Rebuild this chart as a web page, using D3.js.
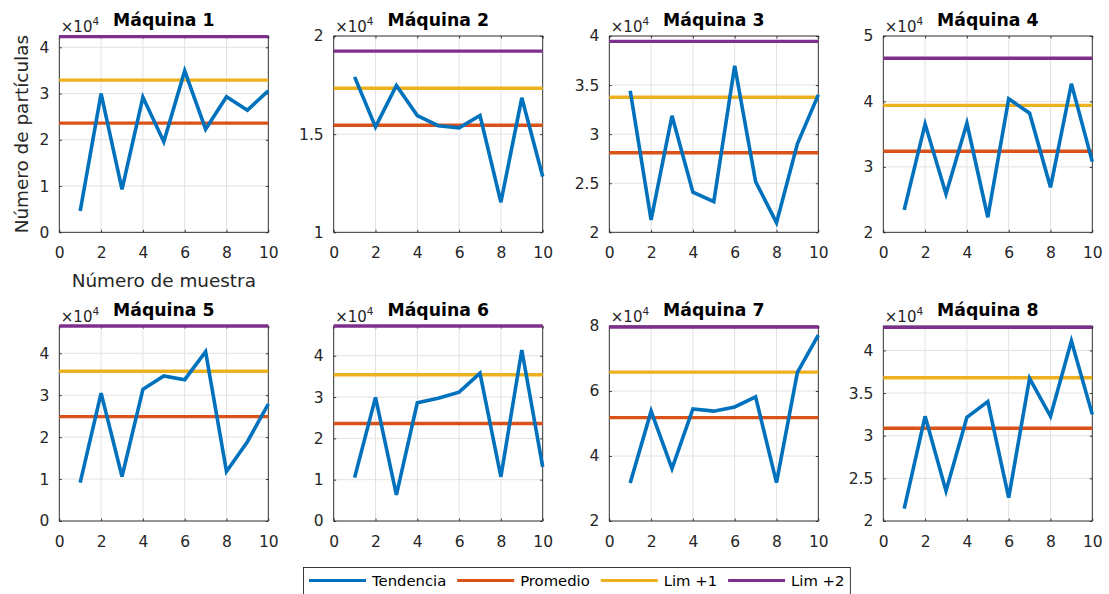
<!DOCTYPE html>
<html>
<head>
<meta charset="utf-8">
<script src="https://cdn.jsdelivr.net/npm/d3@7"></script>
<style>
  body { margin: 0; background: #fff; }
  svg { display: block; font-family: "DejaVu Sans", sans-serif; }
</style>
</head>
<body>
<div id="chart"></div>
<script>
// sample numbers (x axis)
const muestras = [1, 2, 3, 4, 5, 6, 7, 8, 9, 10];
const titulos = ["Máquina 1", "Máquina 2", "Máquina 3", "Máquina 4",
                 "Máquina 5", "Máquina 6", "Máquina 7", "Máquina 8"];

// Tendencia per machine (number of particles)
const maquina1 = [4600, 30000, 9300, 29200, 19600, 34900, 22300, 29300, 26400, 30600];
const maquina2 = [17920, 15370, 17480, 15950, 15430, 15320, 15950, 11530, 16850, 12840];
const maquina3 = [34420, 21260, 31870, 24080, 23120, 36970, 25160, 20980, 29010, 34000];
const maquina4 = [23420, 36550, 25870, 36660, 22300, 40400, 38200, 26870, 42700, 30800];
const maquina5 = [9140, 30500, 10600, 31400, 34600, 33700, 40400, 11800, 18900, 27900];
const maquina6 = [10500, 29900, 6300, 28600, 29700, 31200, 35800, 10700, 41400, 13100];
const maquina7 = [31700, 53800, 36100, 54500, 53800, 55100, 58200, 31800, 65700, 77200];
const maquina8 = [21450, 32270, 23520, 32160, 33990, 22740, 36730, 32270, 41100, 32500];
const tendencias = [maquina1, maquina2, maquina3, maquina4, maquina5, maquina6, maquina7, maquina8];

// horizontal reference lines
const promedio = [23600, 15450, 28100, 32380, 24900, 23600, 51800, 30870];
const limMas1  = [32900, 17340, 33760, 39400, 35700, 35400, 65800, 36800];
const limMas2  = [42300, 19230, 39450, 46600, 46500, 47200, 79700, 42700];

// y limits and ticks (x10^4)
const yMin = [0, 10000, 20000, 20000, 0, 0, 20000, 20000];
const yMax = [42440, 20000, 40000, 50000, 46500, 47200, 80000, 42860];
const yTicks = [
    [0, 1, 2, 3, 4],
    [1, 1.5, 2],
    [2, 2.5, 3, 3.5, 4],
    [2, 3, 4, 5],
    [0, 1, 2, 3, 4],
    [0, 1, 2, 3, 4],
    [2, 4, 6, 8],
    [2, 2.5, 3, 3.5, 4]
];
const xTicks = [0, 2, 4, 6, 8, 10];

const series = ["Tendencia", "Promedio", "Lim +1", "Lim +2"];
const colores = ["#0072BD", "#D95319", "#EDB120", "#7E2F8E"];

const W = 1109, H = 594;
const colLeft = [59.3, 333.7, 609.3, 883.3];
const rowTop = [36, 326];
const axW = 209, axH = [196.3, 195];
const ink = "#262626";

const svg = d3.select("#chart").append("svg")
    .attr("width", W)
    .attr("height", H);

function drawPanel(i) {
    const col = i % 4, row = Math.floor(i / 4);
    const h = axH[row];
    const g = svg.append("g")
        .attr("transform", "translate(" + colLeft[col] + "," + rowTop[row] + ")");

    const x = d3.scaleLinear().domain([0, 10]).range([0, axW]);
    const y = d3.scaleLinear().domain([yMin[i], yMax[i]]).range([h, 0]);
    const ticksY = yTicks[i].map(function(t) { return t * 1e4; });

    // grid
    g.append("g").selectAll("line.gx").data(xTicks).enter().append("line")
        .attr("x1", function(d) { return x(d); }).attr("x2", function(d) { return x(d); })
        .attr("y1", 0).attr("y2", h)
        .attr("stroke", "#e2e2e2").attr("stroke-width", 1);
    g.append("g").selectAll("line.gy").data(ticksY).enter().append("line")
        .attr("x1", 0).attr("x2", axW)
        .attr("y1", function(d) { return y(d); }).attr("y2", function(d) { return y(d); })
        .attr("stroke", "#e2e2e2").attr("stroke-width", 1);

    // axes (inward ticks on all sides)
    const tl = 2.5;
    g.append("g").attr("transform", "translate(0," + h + ")")
        .call(d3.axisBottom(x).tickValues(xTicks).tickSizeInner(-tl).tickSizeOuter(0).tickPadding(15))
        .call(styleAxis);
    g.append("g")
        .call(d3.axisTop(x).tickValues(xTicks).tickSizeInner(-tl).tickSizeOuter(0).tickFormat(""))
        .call(styleAxis);
    g.append("g")
        .call(d3.axisLeft(y).tickValues(ticksY).tickSizeInner(-tl).tickSizeOuter(0).tickPadding(10)
            .tickFormat(function(d) { return d3.format("~g")(d / 1e4); }))
        .call(styleAxis);
    g.append("g").attr("transform", "translate(" + axW + ",0)")
        .call(d3.axisRight(y).tickValues(ticksY).tickSizeInner(-tl).tickSizeOuter(0).tickFormat(""))
        .call(styleAxis);
    g.append("rect")
        .attr("width", axW).attr("height", h)
        .attr("fill", "none").attr("stroke", ink).attr("stroke-width", 0.9);

    // reference lines
    [promedio[i], limMas1[i], limMas2[i]].forEach(function(v, k) {
        g.append("path")
            .datum([{m: 0, v: v}, {m: 10, v: v}])
            .attr("fill", "none")
            .attr("stroke", colores[k + 1])
            .attr("stroke-width", 3.4)
            .attr("d", d3.line()
                .x(function(d) { return x(d.m); })
                .y(function(d) { return y(d.v); }));
    });

    // trend
    g.append("path")
        .datum(muestras.map(function(m, k) { return {m: m, v: tendencias[i][k]}; }))
        .attr("fill", "none")
        .attr("stroke", colores[0])
        .attr("stroke-width", 3.6)
        .attr("stroke-linejoin", "miter")
        .attr("d", d3.line()
            .x(function(d) { return x(d.m); })
            .y(function(d) { return y(d.v); }));

    // x10^4 exponent label
    const exp = g.append("text")
        .attr("x", 1.5).attr("y", -4.5)
        .attr("fill", ink).style("font-size", "15px");
    exp.append("tspan").text("×10");
    exp.append("tspan").attr("dy", -6.5).style("font-size", "10.5px").text("4");

    // title
    g.append("text")
        .attr("x", axW / 2).attr("y", -10)
        .attr("text-anchor", "middle")
        .style("font-size", "17.3px").style("font-weight", "bold")
        .attr("fill", "#000")
        .text(titulos[i]);

    if (i === 0) {
        g.append("text")
            .attr("x", axW / 2).attr("y", h + 54.5)
            .attr("text-anchor", "middle")
            .style("font-size", "18.4px").attr("fill", ink)
            .text("Número de muestra");
        g.append("text")
            .attr("transform", "translate(" + (-31) + "," + (h / 2) + ") rotate(-90)")
            .attr("text-anchor", "middle")
            .style("font-size", "18.4px").attr("fill", ink)
            .text("Número de partículas");
    }
}

function styleAxis(sel) {
    sel.select(".domain").remove();
    sel.selectAll(".tick line").attr("stroke", ink).attr("stroke-width", 0.9);
    sel.selectAll(".tick text")
        .attr("fill", ink)
        .style("font-size", "15.5px")
        .style("font-family", "DejaVu Sans, sans-serif");
}

titulos.forEach(function(t, i) { drawPanel(i); });

// legend
const leg = svg.append("g");
const legLeft = 303.5;
const legBox = leg.append("rect")
    .attr("x", legLeft).attr("y", 567.5)
    .attr("height", 30)
    .attr("fill", "#fff").attr("stroke", ink).attr("stroke-width", 0.9);
let lx = 309;
let textEnd = lx;
const ly = 580.5;
series.forEach(function(s, k) {
    leg.append("line")
        .attr("x1", lx).attr("x2", lx + 57)
        .attr("y1", ly).attr("y2", ly)
        .attr("stroke", colores[k]).attr("stroke-width", 3);
    const t = leg.append("text")
        .attr("x", lx + 63).attr("y", ly).attr("dy", "0.36em")
        .style("font-size", "14.8px").attr("fill", "#000")
        .text(s);
    textEnd = lx + 63 + t.node().getComputedTextLength();
    lx = textEnd + 11;
});
legBox.attr("width", textEnd + 6 - legLeft);
</script>
</body>
</html>
